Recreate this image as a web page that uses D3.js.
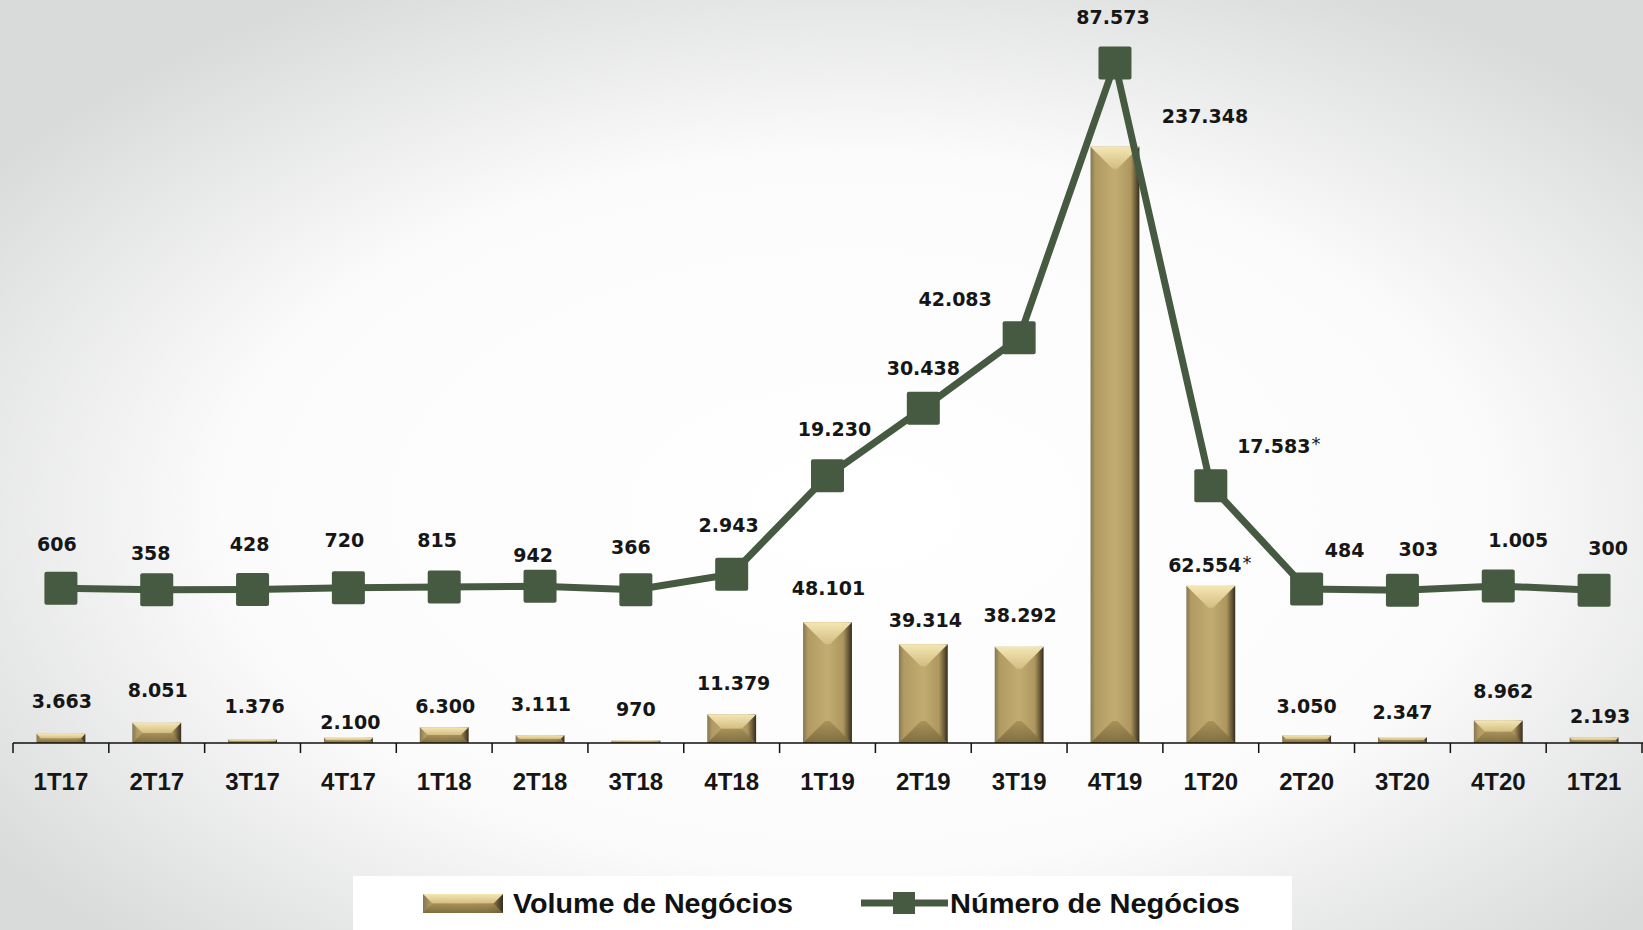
<!DOCTYPE html>
<html>
<head>
<meta charset="utf-8">
<script src="https://cdn.jsdelivr.net/npm/d3@7"></script>
<style>
  body { margin: 0; background: #fff; }
  .valLabel { font-family: "DejaVu Sans", sans-serif; font-weight: bold; font-size: 19px; fill: #161616; }
  .xLabel text { font-family: "Liberation Sans", Arial, sans-serif; font-weight: bold; font-size: 24px; fill: #161616; }
  .legText { font-family: "Liberation Sans", Arial, sans-serif; font-weight: bold; font-size: 27px; fill: #111; }
</style>
</head>
<body>
<div id="chart"></div>
<script>
// Volume / Número de Negócios por trimestre

// Section 1: Data
var quarters = ["1T17", "2T17", "3T17", "4T17", "1T18", "2T18", "3T18", "4T18",
  "1T19", "2T19", "3T19", "4T19", "1T20", "2T20", "3T20", "4T20", "1T21"];
var volume = [3663, 8051, 1376, 2100, 6300, 3111, 970, 11379,
  48101, 39314, 38292, 237348, 62554, 3050, 2347, 8962, 2193];
var numero = [606, 358, 428, 720, 815, 942, 366, 2943,
  19230, 30438, 42083, 87573, 17583, 484, 303, 1005, 300];
// quarters whose labels carry an asterisk
var starred = ["1T20"];

// label nudges (the original labels were moved by hand)
var lineLabelShift = [[-4, -1], [-6, 6], [-3, -2], [-4, -5], [-7, -4], [-7, 12], [-5, 0], [-3, -6],
  [7, -4], [0, 3], [-64, 4], [-2, -3], [63, 3], [38, 4], [16, 2], [20, -3], [14, 1]];
var barLabelShift = [[1, 1], [1, 1], [2, 0], [2, 18], [1, 13], [1, 3], [0, 2], [2, 3],
  [1, 0], [2, 10], [1, 2], [90, 3], [-6, 13], [0, 5], [0, 9], [5, 5], [6, 13]];

// Section 2: Setup
var width = 1643;
var height = 930;
var baseY = 743;
var lineColor = "#465a41";

var fmt = d3.formatLocale({ decimal: ",", thousands: ".", grouping: [3], currency: ["R$", ""] }).format(",");

var svg = d3.select("#chart")
  .append("svg")
  .attr("width", width)
  .attr("height", height);

var defs = svg.append("defs");

// background
var bg = defs.append("radialGradient").attr("id", "bgGrad")
  .attr("cx", "52%").attr("cy", "55%").attr("r", "64%");
bg.append("stop").attr("offset", "0%").attr("stop-color", "#ffffff");
bg.append("stop").attr("offset", "60%").attr("stop-color", "#fbfbfb");
bg.append("stop").attr("offset", "100%").attr("stop-color", "#d9dada");

// bar body
var body = defs.append("linearGradient").attr("id", "barBody")
  .attr("x1", "0").attr("x2", "1").attr("y1", "0").attr("y2", "0");
[["0", "#857752"], ["0.1", "#b19b63"], ["0.5", "#c3ac71"], ["0.82", "#ad975f"],
  ["0.92", "#6c5d3a"], ["1", "#352c1d"]].forEach(function(s) {
  body.append("stop").attr("offset", s[0]).attr("stop-color", s[1]);
});
var topG = defs.append("linearGradient").attr("id", "barTop")
  .attr("x1", "0").attr("x2", "0").attr("y1", "0").attr("y2", "1");
topG.append("stop").attr("offset", "0").attr("stop-color", "#f4e7b4");
topG.append("stop").attr("offset", "1").attr("stop-color", "#d3bd82");
var botG = defs.append("linearGradient").attr("id", "barBot")
  .attr("x1", "0").attr("x2", "0").attr("y1", "0").attr("y2", "1");
botG.append("stop").attr("offset", "0").attr("stop-color", "#a48e57");
botG.append("stop").attr("offset", "1").attr("stop-color", "#766539");

svg.append("rect")
  .attr("width", width)
  .attr("height", height)
  .attr("fill", "url(#bgGrad)");

// Section 3: Scales
var xBand = d3.scaleBand()
  .domain(quarters)
  .range([13, 1642]);

var barW = xBand.bandwidth() * 0.51;

var yBar = d3.scaleLinear()
  .domain([0, 240000])
  .range([baseY, 140]);

var yLine = d3.scaleLinear()
  .domain([-25000, 100000])
  .range([baseY, -12]);

function cx(q) {
  return xBand(q) + xBand.bandwidth() / 2;
}

// bevelled bar like the Excel preset
function bevelBar(g, x, y, w, h) {
  var b = Math.min(h / 2, w / 2, 22);
  g.append("rect")
    .attr("x", x).attr("y", y)
    .attr("width", w).attr("height", h)
    .attr("fill", "url(#barBody)");
  g.append("polygon")
    .attr("points", [[x, y], [x + w, y], [x + w - b, y + b], [x + b, y + b]].join(" "))
    .attr("fill", "url(#barTop)");
  g.append("polygon")
    .attr("points", [[x, y + h], [x + w, y + h], [x + w - b, y + h - b], [x + b, y + h - b]].join(" "))
    .attr("fill", "url(#barBot)")
    .attr("opacity", 0.85);
}

// Section 4: Bars
var bars = svg.append("g").attr("class", "bars");
quarters.forEach(function(q, i) {
  var top = yBar(volume[i]);
  bevelBar(bars.append("g"), cx(q) - barW / 2, top, barW, baseY - top);
});

// Section 5: Axis
var axisG = svg.append("g")
  .attr("class", "xLabel")
  .attr("transform", "translate(0," + baseY + ")")
  .call(d3.axisBottom(xBand).tickSize(0).tickPadding(30));
axisG.select(".domain").remove();

svg.append("line")
  .attr("x1", xBand.range()[0]).attr("x2", width)
  .attr("y1", baseY).attr("y2", baseY)
  .attr("stroke", "#111").attr("stroke-width", 1.5);

var bounds = quarters.map(function(q) { return xBand(q); }).concat([xBand.range()[1]]);
svg.selectAll(".tickMark")
  .data(bounds)
  .enter()
  .append("line")
  .attr("class", "tickMark")
  .attr("x1", function(d) { return d; })
  .attr("x2", function(d) { return d; })
  .attr("y1", baseY)
  .attr("y2", baseY + 10)
  .attr("stroke", "#111")
  .attr("stroke-width", 1.5);

// Section 6: Line
var line = d3.line()
  .x(function(d, i) { return cx(quarters[i]); })
  .y(function(d) { return yLine(d); });

svg.append("path")
  .datum(numero)
  .attr("d", line)
  .attr("fill", "none")
  .attr("stroke", lineColor)
  .attr("stroke-width", 7);

svg.selectAll(".marker")
  .data(numero)
  .enter()
  .append("rect")
  .attr("class", "marker")
  .attr("x", function(d, i) { return cx(quarters[i]) - 16.5; })
  .attr("y", function(d) { return yLine(d) - 16.5; })
  .attr("width", 33)
  .attr("height", 33)
  .attr("rx", 2)
  .attr("fill", lineColor);

// Section 7: Labels
function addLabel(x, y, value, star) {
  var t = svg.append("text")
    .attr("class", "valLabel")
    .attr("x", x)
    .attr("y", y)
    .attr("text-anchor", "middle")
    .text(fmt(value));
  if (star) {
    var w = t.node().getComputedTextLength();
    svg.append("text")
      .attr("class", "valLabel")
      .attr("x", x + w / 2 + 1)
      .attr("y", y - 3)
      .style("font-size", "18px")
      .style("font-weight", "normal")
      .text("*");
  }
}

quarters.forEach(function(q, i) {
  var star = starred.indexOf(q) >= 0;
  addLabel(cx(q) + lineLabelShift[i][0], yLine(numero[i]) - 36 + lineLabelShift[i][1], numero[i], star);
  addLabel(cx(q) + barLabelShift[i][0], yBar(volume[i]) - 27 + barLabelShift[i][1], volume[i], star);
});

// Section 8: Legend
var leg = svg.append("g").attr("class", "legend");
leg.append("rect")
  .attr("x", 353).attr("y", 876)
  .attr("width", 939).attr("height", 60)
  .attr("fill", "#ffffff");

bevelBar(leg.append("g"), 423, 894, 80, 19);
leg.append("text")
  .attr("class", "legText")
  .attr("x", 513).attr("y", 913)
  .attr("textLength", 280)
  .attr("lengthAdjust", "spacingAndGlyphs")
  .text("Volume de Negócios");

leg.append("line")
  .attr("x1", 861).attr("x2", 948)
  .attr("y1", 903).attr("y2", 903)
  .attr("stroke", lineColor).attr("stroke-width", 7);
leg.append("rect")
  .attr("x", 893).attr("y", 892)
  .attr("width", 22).attr("height", 22)
  .attr("fill", lineColor);
leg.append("text")
  .attr("class", "legText")
  .attr("x", 950).attr("y", 913)
  .attr("textLength", 290)
  .attr("lengthAdjust", "spacingAndGlyphs")
  .text("Número de Negócios");
</script>
</body>
</html>
